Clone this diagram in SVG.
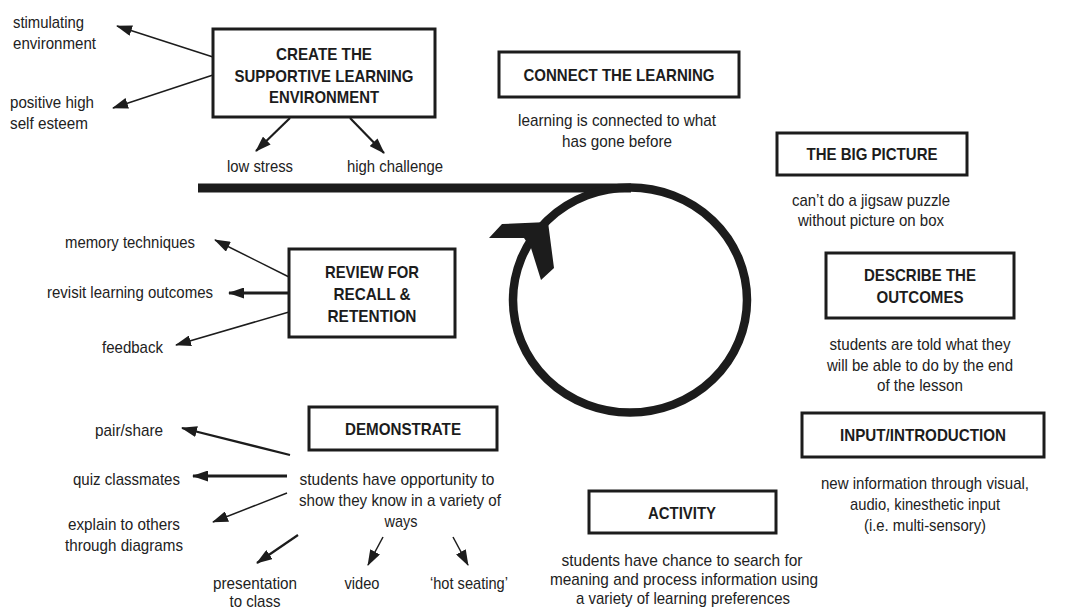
<svg xmlns="http://www.w3.org/2000/svg" width="1085" height="610" viewBox="0 0 1085 610">
<defs>
<marker id="ah" viewBox="0 0 16 11" markerWidth="16" markerHeight="11" refX="15" refY="5.5" orient="auto" markerUnits="userSpaceOnUse">
<path d="M0,0 L16,5.5 L0,11 z" fill="#1c1c1c"/>
</marker>
<style>
.bx{fill:none;stroke:#1c1c1c;stroke-width:3}
.lb{font-family:"Liberation Sans",Arial,sans-serif;font-size:17px;font-weight:bold;fill:#1c1c1c;text-anchor:middle}
.t{font-family:"Liberation Sans",Arial,sans-serif;font-size:17px;fill:#222}
.m{text-anchor:middle}
.c{stroke:#1c1c1c;stroke-width:1.5;fill:none;marker-end:url(#ah)}
.c2{stroke-width:2.2}
.c3{stroke-width:3}
</style>
</defs>
<rect width="1085" height="610" fill="#ffffff"/>

<g id="connectors">
<line class="c" x1="213" y1="57" x2="117" y2="26"/>
<line class="c" x1="213" y1="75" x2="113" y2="108"/>
<line class="c c2" x1="290" y1="118" x2="256" y2="151"/>
<line class="c c2" x1="350" y1="118" x2="384" y2="153"/>
<line class="c" x1="289" y1="277" x2="215" y2="240"/>
<line class="c c3" x1="289" y1="293" x2="229" y2="293"/>
<line class="c" x1="289" y1="312" x2="176" y2="345"/>
<line class="c c2" x1="290" y1="455" x2="182" y2="428"/>
<line class="c c3" x1="287" y1="476" x2="193" y2="476"/>
<line class="c" x1="287" y1="493" x2="213" y2="522"/>
<line class="c c2" x1="298" y1="535" x2="257" y2="563"/>
<line class="c" x1="383" y1="537" x2="368" y2="565"/>
<line class="c" x1="453" y1="537" x2="468" y2="565"/>
</g>

<g id="cycle">
<line x1="198" y1="188" x2="631" y2="188" stroke="#1c1c1c" stroke-width="9"/>
<ellipse cx="630" cy="300" rx="117" ry="112.5" fill="none" stroke="#1c1c1c" stroke-width="8.5"/>
<polygon points="502,224 548,222 554,268 541,280 531,248 524,238 489,238" fill="#1c1c1c"/>
</g>

<g id="create">
<rect class="bx" x="213" y="29" width="222" height="88"/>
<text class="lb" x="324" y="60" textLength="96" lengthAdjust="spacingAndGlyphs">CREATE THE</text>
<text class="lb" x="324" y="82" textLength="179" lengthAdjust="spacingAndGlyphs">SUPPORTIVE LEARNING</text>
<text class="lb" x="324" y="103" textLength="110" lengthAdjust="spacingAndGlyphs">ENVIRONMENT</text>
</g>
<g id="create-notes">
<text class="t" x="13" y="28" textLength="71" lengthAdjust="spacingAndGlyphs">stimulating</text>
<text class="t" x="13" y="49" textLength="83" lengthAdjust="spacingAndGlyphs">environment</text>
<text class="t" x="10" y="108" textLength="84" lengthAdjust="spacingAndGlyphs">positive high</text>
<text class="t" x="10" y="129" textLength="78" lengthAdjust="spacingAndGlyphs">self esteem</text>
<text class="t" x="227" y="172" textLength="66" lengthAdjust="spacingAndGlyphs">low stress</text>
<text class="t" x="347" y="172" textLength="96" lengthAdjust="spacingAndGlyphs">high challenge</text>
</g>

<g id="connect">
<rect class="bx" x="499" y="52" width="240" height="45"/>
<text class="lb" x="619" y="81" textLength="191" lengthAdjust="spacingAndGlyphs">CONNECT THE LEARNING</text>
<text class="t m" x="617" y="126" textLength="198" lengthAdjust="spacingAndGlyphs">learning is connected to what</text>
<text class="t m" x="617" y="147" textLength="110" lengthAdjust="spacingAndGlyphs">has gone before</text>
</g>

<g id="bigpicture">
<rect class="bx" x="777" y="133" width="190" height="42"/>
<text class="lb" x="872" y="160" textLength="131" lengthAdjust="spacingAndGlyphs">THE BIG PICTURE</text>
<text class="t m" x="871" y="206" textLength="158" lengthAdjust="spacingAndGlyphs">can’t do a jigsaw puzzle</text>
<text class="t m" x="871" y="226" textLength="146" lengthAdjust="spacingAndGlyphs">without picture on box</text>
</g>

<g id="describe">
<rect class="bx" x="826" y="253" width="188" height="65"/>
<text class="lb" x="920" y="281" textLength="112" lengthAdjust="spacingAndGlyphs">DESCRIBE THE</text>
<text class="lb" x="920" y="303" textLength="87" lengthAdjust="spacingAndGlyphs">OUTCOMES</text>
<text class="t m" x="920" y="350" textLength="181" lengthAdjust="spacingAndGlyphs">students are told what they</text>
<text class="t m" x="920" y="371" textLength="186" lengthAdjust="spacingAndGlyphs">will be able to do by the end</text>
<text class="t m" x="920" y="391" textLength="86" lengthAdjust="spacingAndGlyphs">of the lesson</text>
</g>

<g id="input">
<rect class="bx" x="802" y="413" width="242" height="44"/>
<text class="lb" x="923" y="441" textLength="166" lengthAdjust="spacingAndGlyphs">INPUT/INTRODUCTION</text>
<text class="t m" x="925" y="489" textLength="208" lengthAdjust="spacingAndGlyphs">new information through visual,</text>
<text class="t m" x="925" y="510" textLength="150" lengthAdjust="spacingAndGlyphs">audio, kinesthetic input</text>
<text class="t m" x="925" y="531" textLength="122" lengthAdjust="spacingAndGlyphs">(i.e. multi-sensory)</text>
</g>

<g id="activity">
<rect class="bx" x="589" y="491" width="187" height="42"/>
<text class="lb" x="682" y="519" textLength="68" lengthAdjust="spacingAndGlyphs">ACTIVITY</text>
<text class="t m" x="682" y="566" textLength="241" lengthAdjust="spacingAndGlyphs">students have chance to search for</text>
<text class="t m" x="684" y="585" textLength="268" lengthAdjust="spacingAndGlyphs">meaning and process information using</text>
<text class="t m" x="683" y="604" textLength="214" lengthAdjust="spacingAndGlyphs">a variety of learning preferences</text>
</g>

<g id="review">
<rect class="bx" x="289" y="249" width="166" height="88"/>
<text class="lb" x="372" y="278" textLength="94" lengthAdjust="spacingAndGlyphs">REVIEW FOR</text>
<text class="lb" x="372" y="300" textLength="77" lengthAdjust="spacingAndGlyphs">RECALL &amp;</text>
<text class="lb" x="372" y="322" textLength="89" lengthAdjust="spacingAndGlyphs">RETENTION</text>
</g>
<g id="review-notes">
<text class="t" x="65" y="248" textLength="130" lengthAdjust="spacingAndGlyphs">memory techniques</text>
<text class="t" x="47" y="298" textLength="166" lengthAdjust="spacingAndGlyphs">revisit learning outcomes</text>
<text class="t" x="102" y="353" textLength="61" lengthAdjust="spacingAndGlyphs">feedback</text>
</g>

<g id="demonstrate">
<rect class="bx" x="309" y="407" width="188" height="43"/>
<text class="lb" x="403" y="435" textLength="116" lengthAdjust="spacingAndGlyphs">DEMONSTRATE</text>
<text class="t m" x="397" y="485" textLength="195" lengthAdjust="spacingAndGlyphs">students have opportunity to</text>
<text class="t m" x="400" y="506" textLength="202" lengthAdjust="spacingAndGlyphs">show they know in a variety of</text>
<text class="t m" x="401" y="527" textLength="33" lengthAdjust="spacingAndGlyphs">ways</text>
</g>
<g id="demonstrate-notes">
<text class="t" x="95" y="436" textLength="68" lengthAdjust="spacingAndGlyphs">pair/share</text>
<text class="t" x="73" y="485" textLength="107" lengthAdjust="spacingAndGlyphs">quiz classmates</text>
<text class="t m" x="124" y="530" textLength="112" lengthAdjust="spacingAndGlyphs">explain to others</text>
<text class="t m" x="124" y="551" textLength="118" lengthAdjust="spacingAndGlyphs">through diagrams</text>
<text class="t m" x="255" y="589" textLength="84" lengthAdjust="spacingAndGlyphs">presentation</text>
<text class="t m" x="255" y="607" textLength="51" lengthAdjust="spacingAndGlyphs">to class</text>
<text class="t m" x="362" y="589" textLength="35" lengthAdjust="spacingAndGlyphs">video</text>
<text class="t m" x="469" y="589" textLength="78" lengthAdjust="spacingAndGlyphs">‘hot seating’</text>
</g>
</svg>
